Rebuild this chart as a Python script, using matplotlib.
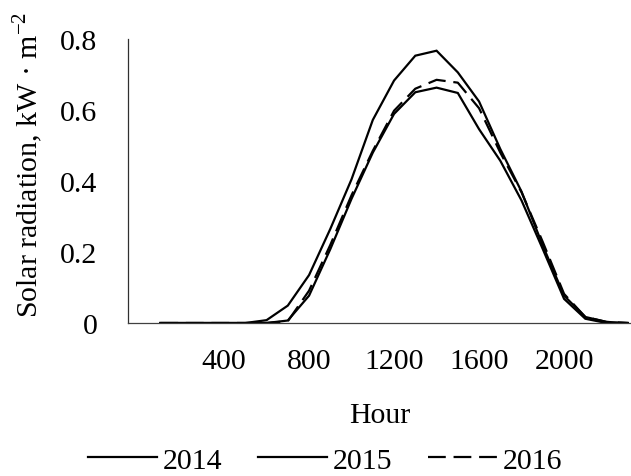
import matplotlib
matplotlib.use("Agg")
import matplotlib.pyplot as plt

hours = [100, 200, 300, 400, 500, 600, 700, 800, 900, 1000, 1100, 1200,
         1300, 1400, 1500, 1600, 1700, 1800, 1900, 2000, 2100, 2200, 2300]
y2014 = [0, 0, 0, 0, 0, 0.008, 0.049, 0.135, 0.265, 0.405, 0.572, 0.683,
         0.753, 0.767, 0.706, 0.624, 0.49, 0.37, 0.218, 0.077, 0.017, 0.003, 0]
y2015 = [0, 0, 0, 0, 0, 0, 0.007, 0.077, 0.208, 0.35, 0.48, 0.589,
         0.65, 0.663, 0.648, 0.546, 0.457, 0.345, 0.208, 0.068, 0.012, 0, 0]
y2016 = [0, 0, 0, 0, 0, 0, 0.005, 0.091, 0.22, 0.36, 0.485, 0.598,
         0.66, 0.685, 0.677, 0.605, 0.48, 0.368, 0.228, 0.082, 0.017, 0.003, 0]
series_labels = ["2014", "2015", "2016"]
xticks = [400, 800, 1200, 1600, 2000]
yticks = [0, 0.2, 0.4, 0.6, 0.8]
ytick_labels = ["0", "0.2", "0.4", "0.6", "0.8"]

plt.rcParams['font.family'] = ['Liberation Serif', 'DejaVu Serif']
W, H = 631, 477
FS = 21.5
fig = plt.figure(figsize=(W / 100, H / 100), dpi=100)
ax = fig.add_axes([128 / W, (H - 324) / H, (W - 128) / W, (324 - 40) / H])

lw = 1.6
ax.plot(hours, y2014, color='black', lw=lw, label=series_labels[0], solid_joinstyle='miter')
ax.plot(hours, y2015, color='black', lw=lw, label=series_labels[1], solid_joinstyle='miter')
ax.plot(hours, y2016, color='black', lw=lw, label=series_labels[2], dashes=(8, 3.5))

ax.set_xlim(-52, 2315)
ax.set_ylim(0, 0.8)
ax.set_xticks(xticks)
ax.set_xticklabels([str(t) for t in xticks])
ax.set_yticks(yticks)
ax.set_yticklabels(ytick_labels)
ax.tick_params(axis='both', length=0, labelsize=FS)
ax.tick_params(axis='x', pad=18)
ax.tick_params(axis='y', pad=22)
for s in ['top', 'right']:
    ax.spines[s].set_visible(False)
ax.spines['left'].set_color('#303030')
ax.spines['left'].set_linewidth(0.9)
ax.spines['bottom'].set_color('#404040')
ax.spines['bottom'].set_linewidth(0.9)

ax.set_ylabel("Solar radiation, kW · m$^{\\mathregular{-2}}$", fontsize=FS)
ax.yaxis.set_label_coords(-0.199, 0.56)
ax.yaxis.label.set_verticalalignment('center')
ax.set_xlabel("Hour", fontsize=FS, labelpad=20)

fig.legend(loc='lower center', bbox_to_anchor=(0.515, -0.052), ncol=3, frameon=False,
           fontsize=FS, handlelength=2.3, handletextpad=0.2, columnspacing=1.2)

fig.savefig("out.png", dpi=100)
